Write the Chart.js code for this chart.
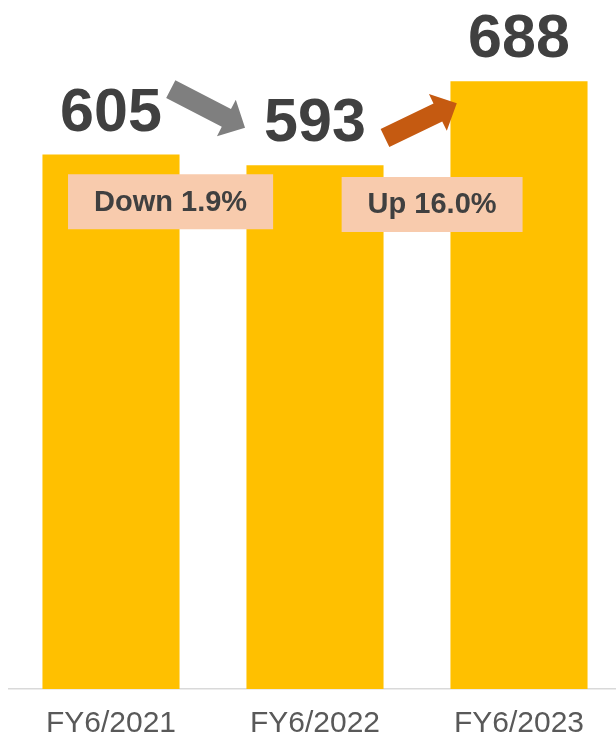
<!DOCTYPE html>
<html>
<head>
<meta charset="utf-8">
<script src="https://cdn.jsdelivr.net/npm/chart.js@4"></script>
<style>
  html, body { margin: 0; padding: 0; background: #ffffff; overflow: hidden; width: 616px; height: 741px; }
  #wrap { position: relative; width: 630px; height: 759px; }
</style>
</head>
<body>
<div id="wrap"><canvas id="c" width="630" height="759"></canvas></div>
<script>
// Fiscal years and their values
const categories = ['FY6/2021', 'FY6/2022', 'FY6/2023'];
const values = [605, 593, 688];

// Year-over-year change callouts
const changeLabels = ['Down 1.9%', 'Up 16.0%'];
// callout box centres, in (category position, value) units
const changeBoxAt = [[0.292, 551.6], [1.574, 548.5]];
// change arrows: tail and tip, in (category position, value) units
const arrowFrom = [[0.293, 679.0], [1.343, 623.8]];
const arrowTo = [[0.657, 635.5], [1.695, 663.1]];
const arrowColors = ['#7f7f7f', '#c55a11'];

const FONT = '"Liberation Sans", Arial, Helvetica, sans-serif';

function drawArrow(ctx, x0, y0, x1, y1, color) {
  const shaftHalf = 10, headHalf = 20.5, headLen = 21;
  const dx = x1 - x0, dy = y1 - y0;
  const len = Math.hypot(dx, dy);
  const ux = dx / len, uy = dy / len;
  const nx = -uy, ny = ux;
  const bx = x1 - ux * headLen, by = y1 - uy * headLen;
  ctx.beginPath();
  ctx.moveTo(x0 + nx * shaftHalf, y0 + ny * shaftHalf);
  ctx.lineTo(bx + nx * shaftHalf, by + ny * shaftHalf);
  ctx.lineTo(bx + nx * headHalf, by + ny * headHalf);
  ctx.lineTo(x1, y1);
  ctx.lineTo(bx - nx * headHalf, by - ny * headHalf);
  ctx.lineTo(bx - nx * shaftHalf, by - ny * shaftHalf);
  ctx.lineTo(x0 - nx * shaftHalf, y0 - ny * shaftHalf);
  ctx.closePath();
  ctx.fillStyle = color;
  ctx.fill();
}

const annotate = {
  id: 'annotate',
  afterDatasetsDraw(chart) {
    const { ctx, scales: { x, y } } = chart;
    const meta = chart.getDatasetMeta(0);
    ctx.save();

    // value labels above each bar
    ctx.font = `bold 61px ${FONT}`;
    ctx.fillStyle = '#404040';
    ctx.textAlign = 'center';
    ctx.textBaseline = 'alphabetic';
    meta.data.forEach((bar, i) => {
      ctx.fillText(String(values[i]), bar.x, bar.y - 24);
    });

    // arrows between the values
    arrowFrom.forEach((from, i) => {
      const to = arrowTo[i];
      drawArrow(ctx,
        x.getPixelForValue(from[0]), y.getPixelForValue(from[1]),
        x.getPixelForValue(to[0]), y.getPixelForValue(to[1]),
        arrowColors[i]);
    });

    // change callout boxes
    ctx.font = `bold 29px ${FONT}`;
    ctx.textBaseline = 'middle';
    changeLabels.forEach((label, i) => {
      const cx = x.getPixelForValue(changeBoxAt[i][0]);
      const cy = y.getPixelForValue(changeBoxAt[i][1]);
      const w = ctx.measureText(label).width + 52;
      const h = 55;
      ctx.fillStyle = '#f8cbad';
      ctx.fillRect(cx - w / 2, cy - h / 2, w, h);
      ctx.fillStyle = '#404040';
      ctx.fillText(label, cx, cy + 1);
    });

    ctx.restore();
  }
};

new Chart(document.getElementById('c'), {
  type: 'bar',
  data: {
    labels: categories,
    datasets: [{
      data: values,
      backgroundColor: '#ffc000',
      borderWidth: 0,
      barPercentage: 0.672,
      categoryPercentage: 1.0
    }]
  },
  options: {
    responsive: false,
    animation: false,
    devicePixelRatio: 1,
    layout: { padding: { left: 9, right: 9, top: 0, bottom: 0 } },
    plugins: {
      legend: { display: false },
      tooltip: { enabled: false }
    },
    scales: {
      x: {
        grid: { display: false, drawTicks: false },
        border: { display: true, color: '#d9d9d9', width: 1.5 },
        ticks: {
          color: '#595959',
          padding: 17,
          font: { family: FONT, size: 30 }
        }
      },
      y: {
        display: false,
        min: 0,
        max: 780
      }
    }
  },
  plugins: [annotate]
});
</script>
</body>
</html>
